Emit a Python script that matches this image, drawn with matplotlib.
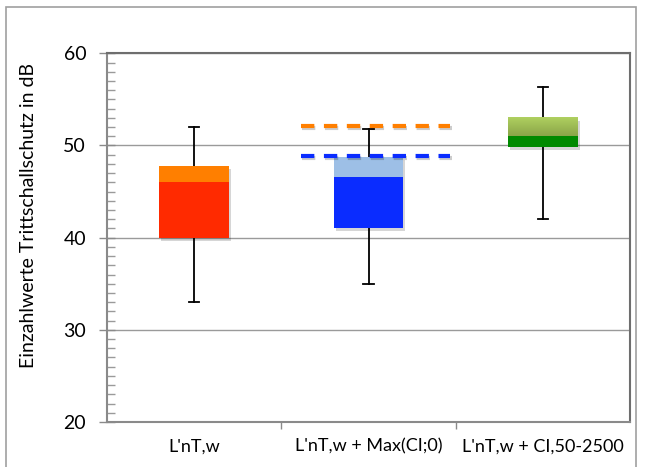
import numpy as np
import matplotlib.pyplot as plt
import matplotlib.patches as mpatches
import matplotlib.patheffects as pe
from matplotlib.colors import to_rgb
from matplotlib.ticker import MultipleLocator, FixedLocator

plt.rcParams['font.family'] = ['Lato', 'DejaVu Sans']

# Kategorien und Werte (dB)
categories = ["L'nT,w", "L'nT,w + Max(CI;0)", "L'nT,w + CI,50-2500"]
box_low = [40.0, 41.1, 49.85]
box_mid = [46.0, 46.6, 51.0]
box_high = [47.8, 48.8, 53.05]
whisk_low = [33.0, 35.0, 42.0]
whisk_high = [52.0, 51.8, 56.3]
lower_colors = ["#FF2A00", "#0A2CFF", "#008A00"]
upper_colors = ["#FF7F00", "#9DBFE6", None]  # grüner Block mit Verlauf
green_grad = ["#AFD060", "#8AA548"]

# Referenzlinien über der mittleren Box
ref_levels = [52.1, 48.9]
ref_colors = ["#FF7F00", "#0A2CFF"]
ref_span = [0.61, 1.47]

fig = plt.figure(figsize=(6.48, 4.67), dpi=100)
ax = fig.add_axes([107/648, 1-422/467, (630-107)/648, (422-53.3)/467])

x = np.arange(len(categories))
w = 0.40
shadow = [pe.SimplePatchShadow(offset=(1.5, -2.5), shadow_rgbFace='#000000', alpha=0.16)]

for i in x:
    # Whisker
    ax.plot([i, i], [whisk_low[i], whisk_high[i]], color='black', lw=1.3, zorder=2)
    for yv in (whisk_low[i], whisk_high[i]):
        ax.plot([i - 0.03, i + 0.03], [yv, yv], color='black', lw=1.3, zorder=2)
    # Schatten für die ganze Box
    sh = ax.bar(i, box_high[i] - box_low[i], bottom=box_low[i], width=w,
                color='none', zorder=2.5)
    sh[0].set_path_effects(shadow)
    ax.bar(i, box_mid[i] - box_low[i], bottom=box_low[i], width=w,
           color=lower_colors[i], zorder=3)
    if upper_colors[i] is not None:
        ax.bar(i, box_high[i] - box_mid[i], bottom=box_mid[i], width=w,
               color=upper_colors[i], zorder=3)
    else:
        c0 = np.array(to_rgb(green_grad[0]))
        c1 = np.array(to_rgb(green_grad[1]))
        t = np.linspace(0, 1, 64)[:, None]
        grad = (c0 * (1 - t) + c1 * t)[:, None, :]
        ax.imshow(grad, extent=[i - w/2, i + w/2, box_mid[i], box_high[i]],
                  aspect='auto', origin='upper', zorder=3.5)

for lvl, col in zip(ref_levels, ref_colors):
    ax.plot(ref_span, [lvl, lvl], color=col, lw=3, linestyle=(0, (3.2, 2.3)),
            dash_capstyle='butt', zorder=4,
            path_effects=[pe.SimpleLineShadow(offset=(1, -1.5), alpha=0.2), pe.Normal()])

ax.set_xlim(-0.5, 2.5)
ax.set_ylim(20, 60)

ax.yaxis.grid(True, color='#9a9a9a', lw=1.0, zorder=0)
ax.set_axisbelow(True)

ax.yaxis.set_major_locator(MultipleLocator(10))
ax.yaxis.set_minor_locator(MultipleLocator(1))
ax.tick_params(axis='y', which='major', direction='inout', length=12, width=1,
               color='#8a8a8a', labelsize=14, pad=9)
ax.tick_params(axis='y', which='minor', direction='in', length=6, width=1,
               color='#9a9a9a')

ax.set_xticks(x)
ax.set_xticklabels(categories)
ax.xaxis.set_minor_locator(FixedLocator([0.5, 1.5]))
ax.tick_params(axis='x', which='major', length=0, labelsize=13, pad=12)
ax.tick_params(axis='x', which='minor', direction='out', length=5, width=1,
               color='#8a8a8a')

for side in ('left', 'bottom'):
    ax.spines[side].set_color('#8a8a8a')
    ax.spines[side].set_linewidth(1.5)
for side in ('top', 'right'):
    ax.spines[side].set_color('#6e6e6e')
    ax.spines[side].set_linewidth(1.5)

ax.set_ylabel("Einzahlwerte Trittschallschutz in dB", fontsize=14)
ax.yaxis.set_label_coords(-0.133, 0.56)

# Rahmen um das Diagramm
frame = mpatches.Rectangle((6/648, -0.05), (636-6)/648, 1.05 - 7.5/467,
                           transform=fig.transFigure, fill=False,
                           edgecolor='#a0a0a0', lw=1.2)
fig.patches.append(frame)

fig.savefig("out.png", dpi=100)
